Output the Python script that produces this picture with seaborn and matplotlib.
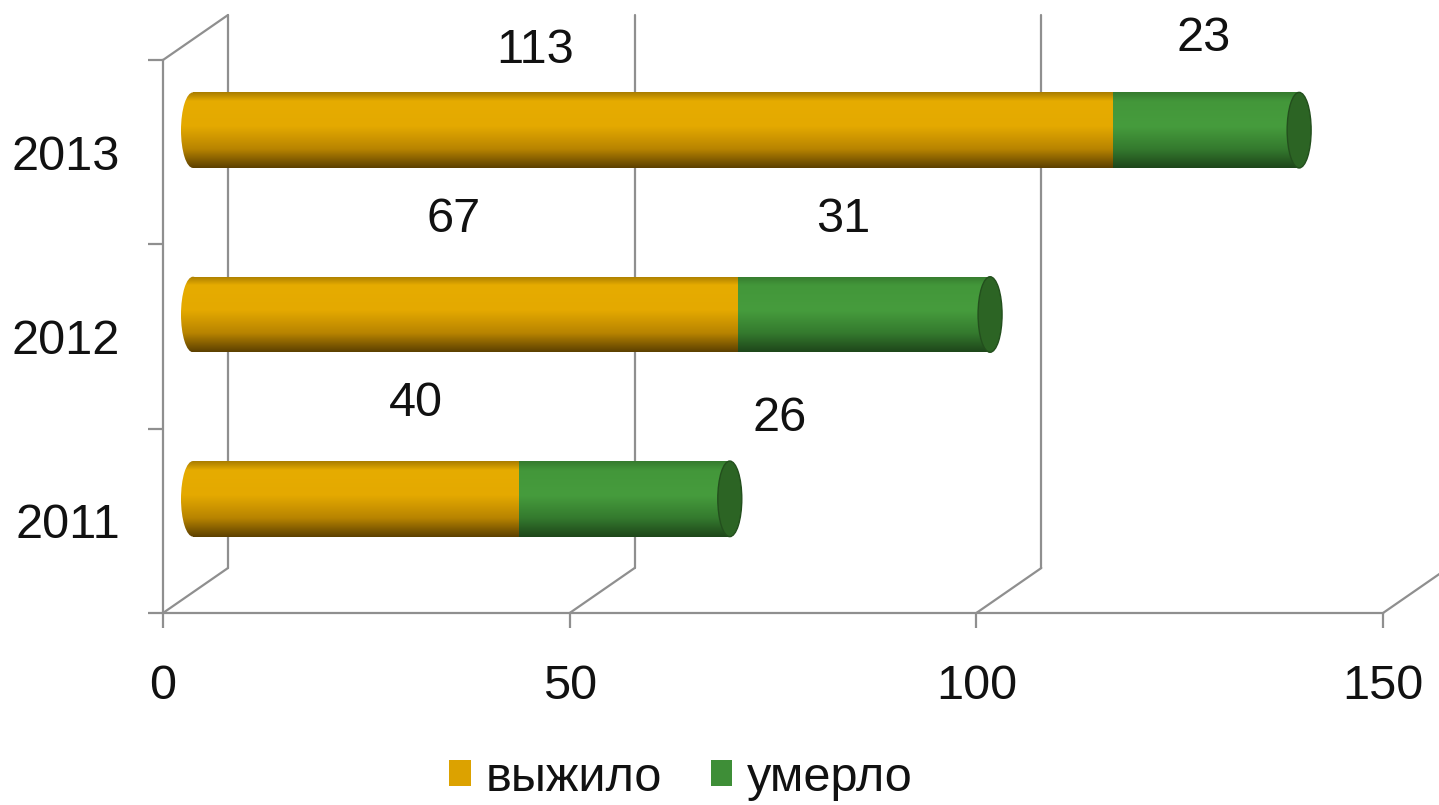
import numpy as np
import pandas as pd
import matplotlib
matplotlib.use("Agg")
import matplotlib.pyplot as plt
import matplotlib.transforms as mtrans
from matplotlib.patches import Ellipse, Patch
from matplotlib.colors import LinearSegmentedColormap
import seaborn as sns

# ---- data ----
years = ["2013", "2012", "2011"]
survived = [113, 67, 40]
died = [23, 31, 26]
series_names = ["выжило", "умерло"]
x_ticks = [0, 50, 100, 150]

# ---- style ----
sns.set_theme(style="white")
plt.rcParams["font.family"] = ["Liberation Sans", "DejaVu Sans"]
GOLD = "#DCA200"
GREEN = "#3E8E37"
CAP_GREEN = "#2C6424"
GRID = "#8f8f8f"
TXT = "#111111"

gold_cmap = LinearSegmentedColormap.from_list(
    "gold", [(0, "#A87C00"), (0.12, "#E6AC00"), (0.45, "#E4A900"),
             (0.75, "#B88400"), (1.0, "#5C4000")])
green_cmap = LinearSegmentedColormap.from_list(
    "green", [(0, "#357A2E"), (0.12, "#43973A"), (0.45, "#469C3D"),
              (0.75, "#347A2E"), (1.0, "#1E461A")])

df = pd.DataFrame({"year": years, "survived": survived, "died": died})
df["total"] = df["survived"] + df["died"]

W, H, DPI = 1439, 805, 100
fig = plt.figure(figsize=(W / DPI, H / DPI), dpi=DPI)
ax = fig.add_axes([163 / W, 192 / H, 1220 / W, 553 / H])

BAR_W = 0.41
sns.barplot(data=df, x="total", y="year", order=years, color=GREEN,
            saturation=1, width=BAR_W, orient="h", errorbar=None, ax=ax)
sns.barplot(data=df, x="survived", y="year", order=years, color=GOLD,
            saturation=1, width=BAR_W, orient="h", errorbar=None, ax=ax)

ax.set_xlim(0, 150)
ax.set_ylim(2.5, -0.5)

# pseudo-3D depth
px_per_x = 1220 / 150
px_per_y = 553 / 3
off = ax.transData + mtrans.ScaledTranslation(30 / DPI, 22 / DPI, fig.dpi_scale_trans)
DDX = 65 / px_per_x
DDY = 45 / px_per_y
cap_w = 24 / px_per_x

grad = np.linspace(0, 1, 256).reshape(-1, 1)

patches = list(ax.patches)
n = len(years)
green_bars = patches[:n]
gold_bars = patches[n:]

def shade(p, cmap, z):
    p.set_transform(off)
    p.set_facecolor("none")
    p.set_edgecolor("none")
    x0, y0, w, h = p.get_x(), p.get_y(), p.get_width(), p.get_height()
    im = ax.imshow(grad, cmap=cmap, extent=(x0, x0 + w, y0 + h, y0),
                   aspect="auto", zorder=z, interpolation="bilinear")
    im.set_transform(off)
    im.set_clip_path(p)
    return x0, y0, w, h

for p in green_bars:
    x0, y0, w, h = shade(p, green_cmap, 3)
    cap = Ellipse((x0 + w, y0 + h / 2), cap_w, h, transform=off,
                  facecolor=CAP_GREEN, edgecolor="#234f1d", lw=1, zorder=6)
    ax.add_patch(cap)

for p in gold_bars:
    x0, y0, w, h = shade(p, gold_cmap, 5)
    le = Ellipse((x0, y0 + h / 2), cap_w, h, transform=off,
                 facecolor="none", edgecolor="none", zorder=4)
    ax.add_patch(le)
    im = ax.imshow(grad, cmap=gold_cmap,
                   extent=(x0 - cap_w / 2, x0 + cap_w / 2, y0 + h, y0),
                   aspect="auto", zorder=4, interpolation="bilinear")
    im.set_transform(off)
    im.set_clip_path(le)

ax.set_xlim(0, 150)
ax.set_ylim(2.5, -0.5)

# back wall / floor lines
lk = dict(color=GRID, lw=1.6, clip_on=False, zorder=0.5)
for xv in x_ticks:
    ax.plot([xv, xv + DDX], [2.5, 2.5 - DDY], **lk)
    if xv < 150:
        ax.plot([xv + DDX, xv + DDX], [2.5 - DDY, -0.5 - DDY], **lk)
ax.plot([0, DDX], [-0.5, -0.5 - DDY], **lk)

# spines and ticks
for s in ["top", "right"]:
    ax.spines[s].set_visible(False)
for s in ["left", "bottom"]:
    ax.spines[s].set_color(GRID)
    ax.spines[s].set_linewidth(1.6)
    ax.spines[s].set_zorder(0.5)

ax.set_xticks(x_ticks)
ax.set_xticklabels([str(t) for t in x_ticks])
ax.set_yticks(range(n))
ax.set_yticklabels(years)
ax.set_yticks([-0.5, 0.5, 1.5, 2.5], minor=True)
ax.tick_params(axis="x", which="major", bottom=True, length=11, width=1.6,
               color=GRID, pad=26, labelsize=35, labelcolor=TXT)
ax.tick_params(axis="y", which="major", left=True, length=0, pad=31,
               labelsize=35, labelcolor=TXT)
ax.tick_params(axis="y", which="minor", left=True, length=11, width=1.6,
               color=GRID)
ax.set_xlabel("")
ax.set_ylabel("")

# value labels
surv_nudge = [(-117, 80), (-12, 95), (60, 95)]
died_nudge = [(-2, 92), (-21, 95), (156, 80)]
for i in range(n):
    segs = [(0, survived[i], surv_nudge[i]),
            (survived[i], died[i], died_nudge[i])]
    for start, val, (nx, ny) in segs:
        ax.annotate(str(val), (start + val / 2, i), xycoords=off,
                    xytext=(nx, ny), textcoords="offset pixels",
                    ha="center", va="center", fontsize=35, color=TXT,
                    annotation_clip=False, zorder=8)

# legend
handles = [Patch(facecolor=GOLD, edgecolor="none"),
           Patch(facecolor=GREEN, edgecolor="none")]
fig.legend(handles, series_names, loc="center",
           bbox_to_anchor=(681 / W, 1 - 778 / H), ncol=2, frameon=False,
           fontsize=35, handlelength=0.45, handleheight=0.45,
           handletextpad=0.3, columnspacing=1.0, labelcolor=TXT)

fig.savefig("out.png", dpi=DPI)
